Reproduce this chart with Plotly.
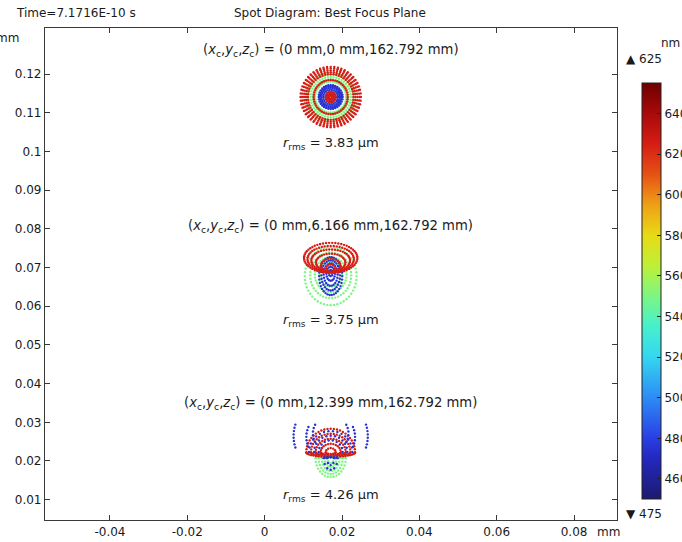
import numpy as np
import plotly.graph_objects as go

# ---------------- data ----------------
TIME_LABEL = "Time=7.1716E-10 s"
TITLE = "Spot Diagram: Best Focus Plane"

WAVELENGTHS_NM = [475, 550, 625]
CBAR_MIN_NM = 450
CBAR_MAX_NM = 655
CBAR_TICKS_NM = [460, 480, 500, 520, 540, 560, 580, 600, 620, 640]

X_TICKS_MM = [-0.04, -0.02, 0, 0.02, 0.04, 0.06, 0.08]
Y_TICKS_MM = [0.01, 0.02, 0.03, 0.04, 0.05, 0.06, 0.07, 0.08, 0.09, 0.1, 0.11, 0.12]
X_RANGE_MM = [-0.0568, 0.0911]
Y_RANGE_MM = [0.00475, 0.1319]

# spot centres (mm) on the image plane
SPOT_X_MM = [0.01707, 0.01707, 0.01707]
SPOT_Y_MM = [0.11406, 0.06858, 0.02284]
FIELD_Y_MM = ["0", "6.166", "12.399"]
FIELD_Z_MM = "162.792"
RMS_UM = ["3.83", "3.75", "4.26"]
LABEL_Y_MM = [0.1260, 0.0806, 0.0349]
RMS_Y_MM = [0.1020, 0.0562, 0.0110]

# ray rings:
# (spot, wavelength, dx_um, dy_um, rx_um, ry_top_um, ry_bot_um, a0_deg, a1_deg, n_rays)
RINGS_SPOT1 = [
    (0, 550, 0, 0, 4.0, 4.0, 4.0, 0, 360, 44),
    (0, 550, 0, 0, 4.6, 4.6, 4.6, 0, 360, 44),
    (0, 550, 0, 0, 5.2, 5.2, 5.2, 0, 360, 44),
    (0, 550, 0, 0, 5.8, 5.8, 5.8, 0, 360, 44),
    (0, 550, 0, 0, 6.3, 6.3, 6.3, 0, 360, 44),
    (0, 625, 0, 0, 4.4, 4.4, 4.4, 0, 360, 48),
    (0, 625, 0, 0, 5.9, 5.9, 5.9, 0, 360, 52),
    (0, 625, 0, 0, 6.4, 6.4, 6.4, 0, 360, 52),
    (0, 625, 0, 0, 6.9, 6.9, 6.9, 0, 360, 52),
    (0, 625, 0, 0, 7.4, 7.4, 7.4, 0, 360, 52),
    (0, 625, 0, 0, 7.8, 7.8, 7.8, 0, 360, 52),
    (0, 475, 0, 0, 0.7, 0.7, 0.7, 0, 360, 10),
    (0, 475, 0, 0, 1.3, 1.3, 1.3, 0, 360, 16),
    (0, 475, 0, 0, 1.9, 1.9, 1.9, 0, 360, 22),
    (0, 475, 0, 0, 2.4, 2.4, 2.4, 0, 360, 28),
    (0, 475, 0, 0, 2.8, 2.8, 2.8, 0, 360, 32),
    (0, 475, 0, 0, 3.1, 3.1, 3.1, 0, 360, 32),
    (0, 625, 0, 0, 0.4, 0.4, 0.4, 0, 360, 6),
    (0, 625, 0, 0, 0.8, 0.8, 0.8, 0, 360, 10),
    (0, 625, 0, 0, 1.3, 1.3, 1.3, 0, 360, 16),
]
RINGS_SPOT2 = [
    (1, 550, 0, -0.8, 6.7, 7.5, 7.5, 0, 360, 48),
    (1, 550, 0, -0.6, 5.3, 5.9, 5.9, 0, 360, 42),
    (1, 550, 0, -0.4, 4.1, 4.5, 4.5, 0, 360, 36),
    (1, 550, 0, -0.3, 2.9, 3.2, 3.2, 0, 360, 30),
    (1, 475, 0, -0.8, 3.0, 4.9, 4.9, 0, 360, 34),
    (1, 475, 0, -0.6, 2.4, 3.9, 3.9, 0, 360, 28),
    (1, 475, 0, -0.4, 1.8, 2.9, 2.9, 0, 360, 22),
    (1, 475, 0, -0.2, 1.1, 1.8, 1.8, 0, 360, 16),
    (1, 475, 0, 0.0, 0.5, 0.8, 0.8, 0, 360, 8),
    (1, 625, 0, 3.9, 6.9, 3.9, 3.9, 0, 360, 54),
    (1, 625, 0, 3.6, 6.0, 3.4, 3.4, 0, 360, 48),
    (1, 625, 0, 3.2, 5.0, 2.9, 2.9, 0, 360, 42),
    (1, 625, 0, 2.7, 3.8, 2.3, 2.3, 0, 360, 34),
    (1, 625, 0, 2.0, 2.5, 1.7, 1.7, 0, 360, 24),
    (1, 625, 0, 1.2, 1.2, 1.0, 1.0, 0, 360, 12),
]
RINGS_SPOT3 = [
    (2, 550, 0, -2.1, 3.9, 0.6, 4.9, 0, 360, 32),
    (2, 550, 0, -2.1, 3.1, 0.5, 4.1, 0, 360, 28),
    (2, 550, 0, -2.1, 2.3, 0.4, 3.3, 0, 360, 22),
    (2, 550, 0, -2.1, 1.5, 0.3, 2.3, 0, 360, 16),
    (2, 550, 0, -2.1, 0.8, 0.2, 1.3, 0, 360, 10),
    (2, 625, 0, -0.6, 6.3, 6.1, 1.2, 0, 360, 48),
    (2, 625, 0, -0.6, 5.1, 4.8, 1.0, 0, 360, 40),
    (2, 625, 0, -0.6, 3.9, 3.5, 0.8, 0, 360, 32),
    (2, 625, 0, -0.6, 2.6, 2.2, 0.6, 0, 360, 24),
    (2, 625, 0, -0.6, 1.3, 1.1, 0.4, 0, 360, 12),
    (2, 475, 0, -0.5, 5.6, 5.4, 0.6, 0, 180, 16),
    (2, 475, 0, -0.5, 4.3, 4.2, 0.5, 0, 180, 13),
    (2, 475, 0, -0.5, 3.1, 3.0, 0.4, 0, 180, 10),
    (2, 475, 0, 3.6, 9.6, 9.6, 9.6, 162, 198, 8),
    (2, 475, 0, 3.6, 9.6, 9.6, 9.6, -18, 18, 8),
    (2, 475, 0, 3.4, 6.3, 6.3, 6.3, 156, 204, 7),
    (2, 475, 0, 3.4, 6.3, 6.3, 6.3, -24, 24, 7),
    (2, 475, 0, 4.3, 4.6, 4.6, 4.6, 151, 209, 6),
    (2, 475, 0, 4.3, 4.6, 4.6, 4.6, -29, 29, 6),
    (2, 475, 0, -2.1, 1.8, 0.3, 3.0, 0, 360, 12),
    (2, 475, 0, -2.1, 1.0, 0.2, 1.8, 0, 360, 8),
]

# ---------------- build figure ----------------
FONT = "DejaVu Sans"
TXT = "#1a1a1a"
AXC = "#3a3a3a"

COLORSCALE = [
    [0.000, "rgb(28,26,112)"],
    [0.098, "rgb(36,40,190)"],
    [0.146, "rgb(42,62,228)"],
    [0.244, "rgb(45,140,245)"],
    [0.341, "rgb(52,214,240)"],
    [0.415, "rgb(70,240,205)"],
    [0.488, "rgb(125,246,130)"],
    [0.561, "rgb(190,240,55)"],
    [0.634, "rgb(232,218,22)"],
    [0.707, "rgb(238,160,22)"],
    [0.780, "rgb(230,82,20)"],
    [0.854, "rgb(214,28,20)"],
    [0.927, "rgb(168,10,10)"],
    [1.000, "rgb(110,0,0)"],
]

fig = go.Figure()

for ring in RINGS_SPOT1 + RINGS_SPOT2 + RINGS_SPOT3:
    s, wl, dx, dy, rx, ryt, ryb, a0, a1, n = ring
    full = (a1 - a0) >= 360
    ang = np.radians(np.linspace(a0, a1, n, endpoint=not full))
    c, si = np.cos(ang), np.sin(ang)
    ry = np.where(si >= 0, ryt, ryb)
    xs = SPOT_X_MM[s] + (dx + rx * c) / 1000.0
    ys = SPOT_Y_MM[s] + (dy + ry * si) / 1000.0
    fig.add_trace(go.Scatter(
        x=xs, y=ys, mode="markers",
        marker=dict(size=2.4, color=[wl] * len(xs), coloraxis="coloraxis",
                    line=dict(width=0)),
        hoverinfo="skip", showlegend=False))

annotations = []
for i in range(3):
    annotations.append(dict(
        x=SPOT_X_MM[i], y=LABEL_Y_MM[i], xref="x", yref="y", showarrow=False,
        text=("(<i>x</i><sub>c</sub>,<i>y</i><sub>c</sub>,<i>z</i><sub>c</sub>) = "
              f"(0 mm,{FIELD_Y_MM[i]} mm,{FIELD_Z_MM} mm)"),
        font=dict(family=FONT, size=13.2, color=TXT)))
    annotations.append(dict(
        x=SPOT_X_MM[i], y=RMS_Y_MM[i], xref="x", yref="y", showarrow=False,
        text=f"<i>r</i><sub>rms</sub> = {RMS_UM[i]} μm",
        font=dict(family=FONT, size=13, color=TXT)))

# pixel helpers for paper placement (plot area 45..617 x 28..520)
def px_x(px):
    return (px - 45) / 572.0

def px_y(py):
    return (520 - py) / 492.0

annotations += [
    dict(x=px_x(14), y=px_y(13), xref="paper", yref="paper", xanchor="left",
         yanchor="middle", showarrow=False, text=TIME_LABEL,
         font=dict(family=FONT, size=12, color=TXT)),
    dict(x=px_x(330), y=px_y(13), xref="paper", yref="paper", xanchor="center",
         yanchor="middle", showarrow=False, text=TITLE,
         font=dict(family=FONT, size=12, color=TXT)),
    dict(x=px_x(21), y=px_y(38), xref="paper", yref="paper", xanchor="right",
         yanchor="middle", showarrow=False, text="mm",
         font=dict(family=FONT, size=12, color=TXT)),
    dict(x=px_x(608), y=px_y(532), xref="paper", yref="paper", xanchor="center",
         yanchor="middle", showarrow=False, text="mm",
         font=dict(family=FONT, size=12, color=TXT)),
    dict(x=px_x(670), y=px_y(43), xref="paper", yref="paper", xanchor="center",
         yanchor="middle", showarrow=False, text="nm",
         font=dict(family=FONT, size=12, color=TXT)),
    dict(x=px_x(624), y=px_y(59), xref="paper", yref="paper", xanchor="left",
         yanchor="middle", showarrow=False, text=f"▲ {max(WAVELENGTHS_NM)}",
         font=dict(family=FONT, size=12, color=TXT)),
    dict(x=px_x(624), y=px_y(514), xref="paper", yref="paper", xanchor="left",
         yanchor="middle", showarrow=False, text=f"▼ {min(WAVELENGTHS_NM)}",
         font=dict(family=FONT, size=12, color=TXT)),
]

axis_common = dict(
    showgrid=False, zeroline=False, showline=True, linecolor=AXC, linewidth=1.2,
    mirror="ticks", ticks="inside", ticklen=5, tickwidth=1, tickcolor=AXC,
    tickfont=dict(family=FONT, size=12, color=TXT), automargin=False,
)

fig.update_layout(
    width=682, height=542,
    margin=dict(l=45, r=65, t=28, b=22, pad=0, autoexpand=False),
    paper_bgcolor="white", plot_bgcolor="white",
    xaxis=dict(range=X_RANGE_MM, tickvals=X_TICKS_MM,
               ticktext=[f"{v:g}" for v in X_TICKS_MM], **axis_common),
    yaxis=dict(range=Y_RANGE_MM, tickvals=Y_TICKS_MM,
               ticktext=[f"{v:g}" for v in Y_TICKS_MM], **axis_common),
    coloraxis=dict(
        cmin=CBAR_MIN_NM, cmax=CBAR_MAX_NM, colorscale=COLORSCALE,
        colorbar=dict(
            x=px_x(642), xanchor="left", xpad=0, ypad=0,
            y=px_y(291.2), yanchor="middle",
            len=415.7, lenmode="pixels", thickness=18.5, thicknessmode="pixels",
            outlinewidth=1, outlinecolor="#222",
            tickvals=CBAR_TICKS_NM, ticks="inside", ticklen=4, tickcolor="#222",
            tickfont=dict(family=FONT, size=12, color=TXT),
        ),
    ),
    annotations=annotations,
    showlegend=False,
)

fig.write_html(
    "out.html",
    config={"displayModeBar": False},
    post_script="document.body.style.margin='0px';document.body.style.overflow='hidden';",
)
